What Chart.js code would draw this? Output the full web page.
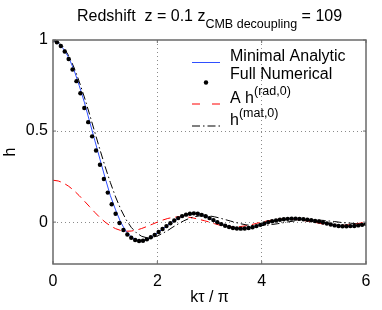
<!DOCTYPE html>
<html>
<head>
<meta charset="utf-8">
<script src="https://cdn.jsdelivr.net/npm/chart.js@4.4.1/dist/chart.umd.min.js"></script>
<style>
  body { margin: 0; background: #fff; }
  #wrap { width: 382px; height: 310px; }
</style>
</head>
<body>
<div id="wrap"><canvas id="chart"></canvas></div>
<script>
const xTicks = [0, 2, 4, 6]
const yTicks = [0, 0.5, 1]

// k tau / pi grid for the three curves
const gridU = [0, 0.1, 0.2, 0.3, 0.4, 0.5, 0.6, 0.7, 0.8, 0.9,
  1, 1.1, 1.2, 1.3, 1.4, 1.5, 1.6, 1.7, 1.8, 1.9,
  2, 2.1, 2.2, 2.3, 2.4, 2.5, 2.6, 2.7, 2.8, 2.9,
  3, 3.1, 3.2, 3.3, 3.4, 3.5, 3.6, 3.7, 3.8, 3.9,
  4, 4.1, 4.2, 4.3, 4.4, 4.5, 4.6, 4.7, 4.8, 4.9,
  5, 5.1, 5.2, 5.3, 5.4, 5.5, 5.6, 5.7, 5.8, 5.9, 6]

const analyticH = [1.000, 0.983, 0.951, 0.904, 0.838, 0.752, 0.659, 0.554, 0.450, 0.346,
  0.242, 0.145, 0.067, -0.002, -0.051, -0.081, -0.099, -0.103, -0.095, -0.079,
  -0.059, -0.038, -0.017, 0.004, 0.022, 0.036, 0.044, 0.048, 0.044, 0.035,
  0.022, 0.007, -0.007, -0.020, -0.029, -0.034, -0.036, -0.034, -0.029, -0.022,
  -0.013, -0.003, 0.005, 0.011, 0.015, 0.018, 0.019, 0.018, 0.016, 0.012,
  0.008, 0.003, -0.004, -0.011, -0.018, -0.021, -0.023, -0.023, -0.019, -0.015, -0.010]

const radH = [0.230, 0.226, 0.215, 0.197, 0.174, 0.146, 0.116, 0.085, 0.054, 0.025,
  0.000, -0.021, -0.036, -0.046, -0.050, -0.049, -0.044, -0.035, -0.024, -0.012,
  0.000, 0.011, 0.020, 0.026, 0.029, 0.029, 0.027, 0.022, 0.015, 0.008,
  0.000, -0.009, -0.017, -0.022, -0.026, -0.026, -0.024, -0.020, -0.014, -0.007,
  0.000, 0.006, 0.011, 0.015, 0.017, 0.017, 0.016, 0.013, 0.009, 0.005,
  0.000, -0.006, -0.011, -0.015, -0.017, -0.018, -0.017, -0.014, -0.010, -0.005, 0.000]

const matH = [1.000, 0.990, 0.961, 0.914, 0.851, 0.774, 0.687, 0.593, 0.495, 0.398,
  0.304, 0.217, 0.138, 0.070, 0.014, -0.029, -0.059, -0.078, -0.086, -0.084,
  -0.076, -0.062, -0.046, -0.027, -0.010, 0.006, 0.019, 0.029, 0.034, 0.036,
  0.034, 0.029, 0.022, 0.014, 0.006, -0.002, -0.009, -0.015, -0.018, -0.020,
  -0.019, -0.017, -0.013, -0.009, -0.004, 0.001, 0.005, 0.009, 0.011, 0.012,
  0.012, 0.011, 0.009, 0.006, 0.003, -0.001, -0.004, -0.006, -0.008, -0.009, -0.008]

// full numerical solution, sampled a bit denser
const numU = [0, 0.075, 0.15, 0.225, 0.3, 0.375, 0.45, 0.525, 0.6, 0.675,
  0.75, 0.825, 0.9, 0.975, 1.05, 1.125, 1.2, 1.275, 1.35, 1.425,
  1.5, 1.575, 1.65, 1.725, 1.8, 1.875, 1.95, 2.025, 2.1, 2.175,
  2.25, 2.325, 2.4, 2.475, 2.55, 2.625, 2.7, 2.775, 2.85, 2.925,
  3, 3.075, 3.15, 3.225, 3.3, 3.375, 3.45, 3.525, 3.6, 3.675,
  3.75, 3.825, 3.9, 3.975, 4.05, 4.125, 4.2, 4.275, 4.35, 4.425,
  4.5, 4.575, 4.65, 4.725, 4.8, 4.875, 4.95, 5.025, 5.1, 5.175,
  5.25, 5.325, 5.4, 5.475, 5.55, 5.625, 5.7, 5.775, 5.85, 5.925, 6]

const numH = [1.000, 0.988, 0.967, 0.937, 0.896, 0.838, 0.774, 0.708, 0.627, 0.549,
  0.471, 0.393, 0.315, 0.237, 0.162, 0.098, 0.046, -0.005, -0.043, -0.068,
  -0.086, -0.098, -0.104, -0.102, -0.094, -0.083, -0.070, -0.054, -0.038, -0.022,
  -0.006, 0.009, 0.022, 0.033, 0.041, 0.046, 0.048, 0.046, 0.040, 0.032,
  0.022, 0.011, -0.001, -0.011, -0.020, -0.027, -0.032, -0.035, -0.036, -0.035,
  -0.032, -0.028, -0.022, -0.015, -0.008, 0.000, 0.005, 0.009, 0.013, 0.016,
  0.018, 0.019, 0.019, 0.018, 0.016, 0.013, 0.010, 0.006, 0.003, -0.002,
  -0.008, -0.013, -0.018, -0.021, -0.023, -0.023, -0.022, -0.021, -0.018, -0.015, -0.011]

const FONT = "'Liberation Sans', Arial, Helvetica, sans-serif"
Chart.defaults.font.family = FONT
Chart.defaults.font.size = 16
Chart.defaults.color = "#000"

const pts = (us, hs) => us.map((u, i) => ({x: u, y: hs[i]}))

const data = {
  datasets: [
    {
      label: "Minimal Analytic",
      data: pts(gridU, analyticH),
      borderColor: "#2f4fff",
      borderWidth: 1,
      pointRadius: 0,
      order: 1
    },
    {
      label: "Full Numerical",
      data: pts(numU, numH),
      showLine: false,
      pointRadius: 2.2,
      pointBackgroundColor: "#000",
      pointBorderWidth: 0,
      order: 0
    },
    {
      label: "A h(rad,0)",
      data: pts(gridU, radH),
      borderColor: "#ff0000",
      borderWidth: 1,
      borderDash: [8, 5],
      pointRadius: 0,
      order: 3
    },
    {
      label: "h(mat,0)",
      data: pts(gridU, matH),
      borderColor: "#000",
      borderWidth: 1,
      borderDash: [8, 3, 1.5, 3],
      pointRadius: 0,
      order: 2
    }
  ]
}

// text with sub/superscripts: [text, size, raise]
const drawParts = (ctx, parts, x, y) => {
  parts.forEach(([t, size, raise]) => {
    ctx.font = size + "px " + FONT
    ctx.fillText(t, x, y - raise)
    x += ctx.measureText(t).width
  })
}
const partsWidth = (ctx, parts) => parts.reduce((w, [t, size]) => {
  ctx.font = size + "px " + FONT
  return w + ctx.measureText(t).width
}, 0)

const titleParts = [["Redshift  z = 0.1 z", 16, 0], ["CMB decoupling", 12.5, -7], [" = 109", 16, 0]]

const legendRows = [
  {parts: [["Minimal Analytic", 16, 0]], ty: 61, sy: 62.5},
  {parts: [["Full Numerical", 16, 0]], ty: 79, sy: 82.5},
  {parts: [["A h", 16, 0], ["(rad,0)", 12.5, 8]], ty: 103, sy: 104},
  {parts: [["h", 16, 0], ["(mat,0)", 12.5, 8]], ty: 125, sy: 126}
]

const decor = {
  id: "decor",
  afterDraw(chart) {
    const {ctx, chartArea: a, scales: {x, y}} = chart
    ctx.save()

    // axes box
    ctx.strokeStyle = "#6a6a6a"
    ctx.lineWidth = 1.5
    ctx.setLineDash([])
    ctx.strokeRect(a.left, a.top, a.right - a.left, a.bottom - a.top)

    // inward tick marks
    ctx.lineWidth = 1
    ctx.beginPath()
    xTicks.forEach(v => {
      const px = x.getPixelForValue(v)
      ctx.moveTo(px, a.bottom); ctx.lineTo(px, a.bottom - 3)
      ctx.moveTo(px, a.top); ctx.lineTo(px, a.top + 3)
    })
    yTicks.forEach(v => {
      const py = y.getPixelForValue(v)
      ctx.moveTo(a.left, py); ctx.lineTo(a.left + 3, py)
      ctx.moveTo(a.right, py); ctx.lineTo(a.right - 3, py)
    })
    ctx.stroke()

    // title
    ctx.fillStyle = "#000"
    ctx.textBaseline = "alphabetic"
    ctx.textAlign = "left"
    const tw = partsWidth(ctx, titleParts)
    drawParts(ctx, titleParts, (a.left + a.right) / 2 - tw / 2, 21)

    // legend
    const lx0 = 192, lx1 = 220, tx = 230
    legendRows.forEach((row, i) => {
      const ds = chart.data.datasets[i]
      if (ds.showLine === false) {
        ctx.fillStyle = ds.pointBackgroundColor
        ctx.beginPath()
        ctx.arc((lx0 + lx1) / 2, row.sy, ds.pointRadius, 0, Math.PI * 2)
        ctx.fill()
      } else {
        ctx.strokeStyle = ds.borderColor
        ctx.lineWidth = ds.borderWidth
        ctx.setLineDash(i === 2 ? [8, 12] : (ds.borderDash || []))
        ctx.beginPath()
        ctx.moveTo(lx0, row.sy)
        ctx.lineTo(lx1, row.sy)
        ctx.stroke()
      }
      ctx.fillStyle = "#000"
      drawParts(ctx, row.parts, tx, row.ty)
    })
    ctx.restore()
  }
}

const config = {
  type: "line",
  data: data,
  options: {
    responsive: true,
    maintainAspectRatio: false,
    animation: false,
    layout: {padding: {top: 40, right: 16, left: 0, bottom: 0}},
    plugins: {
      legend: {display: false},
      tooltip: {enabled: false}
    },
    scales: {
      x: {
        type: "linear",
        min: 0,
        max: 6,
        afterBuildTicks: s => { s.ticks = xTicks.map(v => ({value: v})) },
        afterFit: s => { s.height = 46 },
        grid: {
          color: c => (c.tick && c.tick.value > 0 && c.tick.value < 6) ? "#8a8a8a" : "rgba(0,0,0,0)",
          drawTicks: false
        },
        border: {display: false, dash: [1, 3]},
        ticks: {padding: 8, font: {size: 16}, callback: v => String(v)},
        title: {display: true, text: "kτ / π", font: {size: 16}, padding: {top: 0, bottom: 3}}
      },
      y: {
        min: -0.23,
        max: 1,
        afterBuildTicks: s => { s.ticks = yTicks.map(v => ({value: v})) },
        afterFit: s => { s.width = 53 },
        grid: {
          color: c => (c.tick && c.tick.value < 1) ? "#8a8a8a" : "rgba(0,0,0,0)",
          drawTicks: false
        },
        border: {display: false, dash: [1, 3]},
        ticks: {padding: 5, font: {size: 16}, callback: v => String(v)},
        title: {display: true, text: "h", font: {size: 16}, padding: {top: 1, bottom: 0}}
      }
    }
  },
  plugins: [decor]
}

const hChart = new Chart(document.getElementById("chart"), config)
</script>
</body>
</html>
